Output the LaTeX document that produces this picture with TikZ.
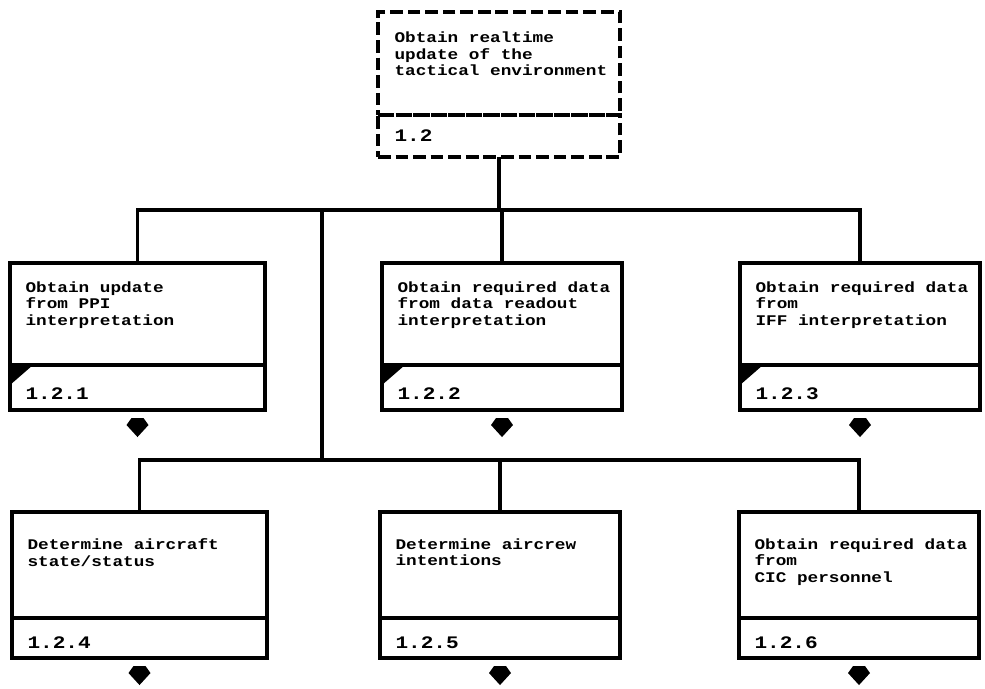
\documentclass[tikz,border=0pt]{standalone}
\usepackage{fontspec}
\newfontfamily\dotfont[FakeStretch=1.2]{Liberation Mono}
\usetikzlibrary{positioning}

\begin{document}
\begin{tikzpicture}[x=0.025cm, y=-0.025cm, line width=2.2pt]

\tikzset{
  upperbox/.style={draw, minimum width=6cm, minimum height=2.55cm,
    inner sep=0pt, outer sep=0pt},
  lowerbox/.style={upperbox, minimum height=1.125cm},
  wide/.style={minimum width=6.375cm},
  dashedbox/.style={dash pattern=on 9pt off 3.5pt},
  boxtext/.style={font=\dotfont\bfseries\fontsize{10.5}{12}\selectfont,
    align=left, anchor=north west, inner sep=0pt},
  numtext/.style={font=\dotfont\bfseries\fontsize{12.5}{13}\selectfont,
    anchor=west, inner sep=0pt},
  notch/.pic={\fill (0,0) -- (23,0) -- (0,20) -- cycle;},
  blockarrow/.pic={\fill (-6,8) -- (6,8) -- (11,15) -- (0,27) -- (-11,15) -- cycle;}
}

\useasboundingbox (0,0) rectangle (985,689);

\def\rowa{263}
\def\rowb{512}

%==== (0) top task ====
\node[upperbox, dashedbox, minimum width=6.05cm, minimum height=2.575cm,
  anchor=north] (task) at (499,12) {};
\node[lowerbox, dashedbox, minimum width=6.05cm, minimum height=1.05cm,
  below=0pt of task] (tasknum) {};
\node[boxtext] (tasktext) at ([xshift=0.375cm, yshift=-0.45cm]task.north west)
  {Obtain realtime\\update of the\\tactical environment};
\node[numtext] (tasklbl) at ([xshift=0.375cm]tasknum.west) {1.2};

%==== (1) first row ====
\node[upperbox, wide, anchor=north] (ppi) at (137.5,\rowa) {};
\node[lowerbox, wide, below=0pt of ppi] (ppinum) {};
\node[upperbox, anchor=north] (readout) at (502,\rowa) {};
\node[lowerbox, below=0pt of readout] (readoutnum) {};
\node[upperbox, anchor=north] (iff) at (860,\rowa) {};
\node[lowerbox, below=0pt of iff] (iffnum) {};

\node[boxtext] (ppitext) at ([xshift=0.35cm, yshift=-0.42cm]ppi.north west)
  {Obtain update\\from PPI\\interpretation};
\node[boxtext] (readouttext) at ([xshift=0.35cm, yshift=-0.42cm]readout.north west)
  {Obtain required data\\from data readout\\interpretation};
\node[boxtext] (ifftext) at ([xshift=0.35cm, yshift=-0.42cm]iff.north west)
  {Obtain required data\\from\\IFF interpretation};

\node[numtext] (ppilbl) at ([xshift=0.35cm, yshift=-0.15cm]ppinum.west) {1.2.1};
\node[numtext] (readoutlbl) at ([xshift=0.35cm, yshift=-0.15cm]readoutnum.west) {1.2.2};
\node[numtext] (ifflbl) at ([xshift=0.35cm, yshift=-0.15cm]iffnum.west) {1.2.3};

% black corner marks
\pic at (ppinum.north west) {notch};
\pic at (readoutnum.north west) {notch};
\pic at (iffnum.north west) {notch};

%==== (2) second row ====
\node[upperbox, wide, minimum height=2.65cm, anchor=north] (state) at (139.5,\rowb) {};
\node[lowerbox, wide, minimum height=1cm, below=0pt of state] (statenum) {};
\node[upperbox, minimum height=2.65cm, anchor=north] (intent) at (500,\rowb) {};
\node[lowerbox, minimum height=1cm, below=0pt of intent] (intentnum) {};
\node[upperbox, minimum height=2.65cm, anchor=north] (cic) at (859,\rowb) {};
\node[lowerbox, minimum height=1cm, below=0pt of cic] (cicnum) {};

\node[boxtext] (statetext) at ([xshift=0.35cm, yshift=-0.62cm]state.north west)
  {Determine aircraft\\state/status};
\node[boxtext] (intenttext) at ([xshift=0.35cm, yshift=-0.62cm]intent.north west)
  {Determine aircrew\\intentions};
\node[boxtext] (cictext) at ([xshift=0.35cm, yshift=-0.62cm]cic.north west)
  {Obtain required data\\from\\CIC personnel};

\node[numtext] (statelbl) at ([xshift=0.35cm, yshift=-0.12cm]statenum.west) {1.2.4};
\node[numtext] (intentlbl) at ([xshift=0.35cm, yshift=-0.12cm]intentnum.west) {1.2.5};
\node[numtext] (ciclbl) at ([xshift=0.35cm, yshift=-0.12cm]cicnum.west) {1.2.6};

%==== connectors ====
\coordinate (bus1) at (0,210);
\coordinate (bus2) at (0,460);
\coordinate (branch) at (322,210);
\draw (tasknum.south) -- (tasknum.south |- bus1);
\draw (ppi.north) -- (ppi.north |- bus1) -- (iff.north |- bus1) -- (iff.north);
\draw (readout.north |- bus1) -- (readout.north);
\draw (branch) -- (branch |- bus2);
\draw (state.north) -- (state.north |- bus2) -- (cic.north |- bus2) -- (cic.north);
\draw (intent.north |- bus2) -- (intent.north);

% outgoing arrows
\foreach \n in {ppinum, readoutnum, iffnum, statenum, intentnum, cicnum}
  \pic at (\n.south) {blockarrow};

\end{tikzpicture}
\end{document}
